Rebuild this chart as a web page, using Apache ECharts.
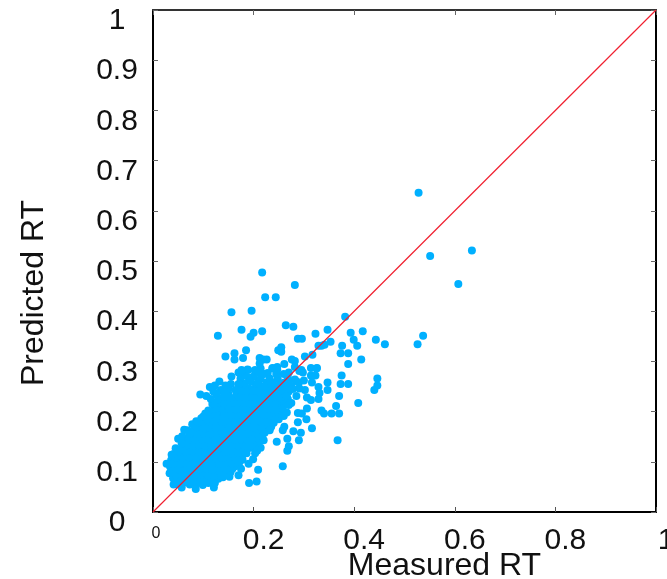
<!DOCTYPE html>
<html>
    <head>
        <meta charset="utf-8" />
        <script src="https://cdnjs.cloudflare.com/ajax/libs/echarts/6.0.0/echarts.min.js"></script>
        <style>
            html, body { margin: 0; padding: 0; background: #fff; }
        </style>
    </head>
    <body>
        <div id="main" style="width: 667px; height: 579px"></div>
        <script type="text/javascript">
            // tick labels
            const tickValues = [0, 0.2, 0.4, 0.6, 0.8, 1];
            const diagonal = [[0, 0], [1, 1]];

            // measured / predicted pairs
            const farPoints = [
                [0.528,0.636],[0.634,0.521],[0.551,0.510],[0.607,0.454],[0.217,0.477],[0.282,0.452],[0.223,0.428],[0.244,0.428],
                [0.156,0.398],[0.196,0.401],[0.382,0.389],[0.264,0.372],[0.279,0.369],[0.176,0.363],[0.217,0.360],[0.200,0.357],
                [0.194,0.349],[0.129,0.351],[0.347,0.363],[0.323,0.355],[0.288,0.345],[0.296,0.345],[0.393,0.357],[0.417,0.360],
                [0.399,0.343],[0.443,0.343],[0.461,0.334],[0.537,0.351],[0.526,0.334],[0.406,0.331],[0.376,0.331],[0.353,0.339],
                [0.329,0.331],[0.341,0.333],[0.335,0.331],[0.373,0.316],[0.388,0.316],[0.388,0.295],[0.414,0.304],[0.317,0.313],
                [0.302,0.310],[0.255,0.328],[0.249,0.322],[0.255,0.319],[0.185,0.322],[0.162,0.316],[0.144,0.310],[0.162,0.304],
                [0.179,0.307],[0.212,0.307],[0.226,0.304],[0.219,0.304],[0.212,0.296],[0.276,0.304],[0.282,0.301],[0.261,0.295],
                [0.238,0.287],[0.247,0.284],[0.282,0.289],[0.314,0.287],[0.326,0.287],[0.188,0.284],[0.203,0.283],[0.214,0.286],
                [0.295,0.283],[0.176,0.283]
            ];
            const upperPoints = [
                [0.446,0.266],[0.446,0.252],[0.440,0.243],[0.408,0.217],[0.375,0.272],[0.373,0.255],[0.388,0.255],[0.370,0.231],
                [0.364,0.211],[0.370,0.196],[0.355,0.196],[0.340,0.196],[0.335,0.202],[0.347,0.258],[0.347,0.243],[0.329,0.249],
                [0.331,0.237],[0.329,0.225],[0.314,0.223],[0.306,0.228],[0.306,0.206],[0.302,0.243],[0.291,0.246],[0.316,0.258],
                [0.325,0.286],[0.314,0.272],[0.323,0.272],[0.298,0.278],[0.291,0.281],[0.282,0.264],[0.270,0.278],[0.260,0.275],
                [0.270,0.258],[0.261,0.258],[0.247,0.289],[0.237,0.286],[0.221,0.275],[0.214,0.266],[0.232,0.266],[0.237,0.258],
                [0.203,0.281],[0.189,0.283],[0.176,0.281],[0.170,0.278],[0.156,0.270],[0.174,0.266],[0.194,0.260],[0.170,0.255],
                [0.209,0.258],[0.132,0.260],[0.144,0.252],[0.123,0.252],[0.113,0.249],[0.164,0.243],[0.141,0.237],[0.126,0.234],
                [0.106,0.231],[0.094,0.234],[0.129,0.223],[0.110,0.202],[0.104,0.196],[0.107,0.185],[0.086,0.181],[0.062,0.164],
                [0.050,0.146],[0.057,0.137],[0.037,0.114],[0.027,0.096],[0.033,0.077]
            ];
            const lowerPoints = [
                [0.041,0.055],[0.057,0.049],[0.085,0.046],[0.121,0.049],[0.123,0.058],[0.152,0.070],[0.170,0.073],[0.175,0.086],
                [0.191,0.058],[0.206,0.061],[0.209,0.084],[0.258,0.091],[0.190,0.096],[0.199,0.105],[0.203,0.117],[0.169,0.102],
                [0.186,0.117],[0.267,0.122],[0.270,0.131],[0.246,0.140],[0.267,0.146],[0.290,0.143],[0.367,0.143],[0.294,0.158],
                [0.279,0.161],[0.316,0.167],[0.288,0.179],[0.261,0.170],[0.258,0.163],[0.232,0.163],[0.220,0.143],[0.217,0.150],
                [0.305,0.185],[0.288,0.197],[0.296,0.196],[0.260,0.191],[0.266,0.198],[0.243,0.185],[0.227,0.179],[0.258,0.206],
                [0.270,0.213],[0.285,0.231],[0.266,0.231],[0.275,0.217],[0.255,0.243],[0.245,0.203]
            ];
            const corePoints = [
                [0.047,0.056],[0.060,0.058],[0.073,0.055],[0.086,0.057],[0.099,0.054],[0.110,0.058],
                [0.040,0.067],[0.052,0.069],[0.065,0.066],[0.078,0.068],[0.091,0.066],[0.104,0.069],[0.117,0.067],[0.130,0.066],[0.139,0.069],
                [0.037,0.079],[0.049,0.081],[0.062,0.078],[0.075,0.080],[0.088,0.078],[0.101,0.081],[0.114,0.079],[0.127,0.078],[0.140,0.081],[0.154,0.079],
                [0.034,0.090],[0.046,0.092],[0.059,0.090],[0.072,0.092],[0.085,0.090],[0.098,0.093],[0.111,0.090],[0.124,0.092],[0.137,0.090],[0.150,0.092],[0.163,0.091],
                [0.036,0.103],[0.049,0.102],[0.062,0.104],[0.075,0.102],[0.088,0.104],[0.101,0.102],[0.114,0.104],[0.127,0.103],[0.140,0.102],[0.153,0.104],[0.178,0.104],
                [0.040,0.115],[0.053,0.114],[0.066,0.116],[0.079,0.114],[0.092,0.116],[0.105,0.114],[0.118,0.116],[0.131,0.114],[0.144,0.116],[0.157,0.114],[0.170,0.116],
                [0.045,0.127],[0.058,0.126],[0.071,0.128],[0.084,0.126],[0.097,0.128],[0.110,0.126],[0.123,0.128],[0.136,0.126],[0.149,0.128],[0.162,0.126],[0.175,0.128],[0.188,0.126],[0.198,0.128],
                [0.064,0.139],[0.077,0.138],[0.090,0.140],[0.103,0.138],[0.116,0.140],[0.129,0.138],[0.142,0.140],[0.155,0.138],[0.168,0.140],[0.181,0.138],[0.194,0.140],[0.204,0.138],
                [0.058,0.151],[0.071,0.150],[0.084,0.152],[0.097,0.150],[0.110,0.152],[0.123,0.150],[0.136,0.152],[0.149,0.150],[0.162,0.152],[0.175,0.150],[0.188,0.152],[0.201,0.150],
                [0.068,0.163],[0.080,0.162],[0.093,0.164],[0.106,0.162],[0.119,0.164],[0.132,0.162],[0.145,0.164],[0.158,0.162],[0.171,0.164],[0.184,0.162],[0.197,0.164],[0.210,0.162],[0.224,0.164],
                [0.078,0.175],[0.091,0.174],[0.104,0.176],[0.117,0.174],[0.130,0.176],[0.143,0.174],[0.156,0.176],[0.169,0.174],[0.182,0.176],[0.195,0.174],[0.208,0.176],[0.221,0.174],[0.233,0.176],
                [0.096,0.187],[0.109,0.186],[0.122,0.188],[0.135,0.186],[0.148,0.188],[0.161,0.186],[0.174,0.188],[0.187,0.186],[0.200,0.188],[0.213,0.186],[0.226,0.188],[0.237,0.186],
                [0.118,0.199],[0.131,0.198],[0.144,0.200],[0.157,0.198],[0.170,0.200],[0.183,0.198],[0.196,0.200],[0.209,0.198],[0.222,0.200],[0.235,0.198],[0.248,0.200],
                [0.122,0.211],[0.135,0.210],[0.148,0.212],[0.161,0.210],[0.174,0.212],[0.187,0.210],[0.200,0.212],[0.213,0.210],[0.226,0.212],[0.239,0.210],[0.252,0.212],
                [0.133,0.223],[0.146,0.222],[0.159,0.224],[0.172,0.222],[0.185,0.224],[0.198,0.222],[0.211,0.224],[0.224,0.222],[0.237,0.224],[0.250,0.222],[0.261,0.224],
                [0.150,0.235],[0.166,0.234],[0.179,0.236],[0.192,0.234],[0.205,0.236],[0.218,0.234],[0.231,0.236],[0.244,0.234],[0.257,0.236],
                [0.178,0.247],[0.191,0.246],[0.204,0.248],[0.217,0.246],[0.230,0.248],[0.243,0.246]
            ];
            const fillPoints = [
                [0.054,0.062],[0.067,0.061],[0.080,0.062],[0.093,0.060],[0.106,0.062],[0.122,0.063],
                [0.044,0.074],[0.057,0.073],[0.070,0.074],[0.083,0.073],[0.096,0.074],[0.109,0.073],[0.122,0.074],[0.135,0.073],[0.147,0.075],
                [0.041,0.085],[0.054,0.086],[0.067,0.085],[0.080,0.086],[0.093,0.085],[0.106,0.086],[0.119,0.085],[0.132,0.086],[0.145,0.085],[0.158,0.086],
                [0.040,0.097],[0.053,0.097],[0.066,0.098],[0.079,0.097],[0.092,0.098],[0.105,0.097],[0.118,0.098],[0.131,0.097],[0.144,0.098],[0.157,0.097],[0.171,0.097],
                [0.046,0.109],[0.059,0.108],[0.072,0.109],[0.085,0.108],[0.098,0.109],[0.111,0.108],[0.124,0.109],[0.137,0.108],[0.150,0.109],[0.163,0.108],[0.176,0.110],
                [0.052,0.121],[0.065,0.120],[0.078,0.121],[0.091,0.120],[0.104,0.121],[0.117,0.120],[0.130,0.121],[0.143,0.120],[0.156,0.121],[0.169,0.120],[0.182,0.122],
                [0.065,0.133],[0.078,0.132],[0.091,0.133],[0.104,0.132],[0.117,0.133],[0.130,0.132],[0.143,0.133],[0.156,0.132],[0.169,0.133],[0.182,0.132],[0.195,0.133],
                [0.071,0.145],[0.084,0.144],[0.097,0.145],[0.110,0.144],[0.123,0.145],[0.136,0.144],[0.149,0.145],[0.162,0.144],[0.175,0.145],[0.188,0.144],[0.203,0.145],
                [0.074,0.157],[0.087,0.156],[0.100,0.157],[0.113,0.156],[0.126,0.157],[0.139,0.156],[0.152,0.157],[0.165,0.156],[0.178,0.157],[0.191,0.156],[0.204,0.157],[0.217,0.158],
                [0.086,0.169],[0.099,0.168],[0.112,0.169],[0.125,0.168],[0.138,0.169],[0.151,0.168],[0.164,0.169],[0.177,0.168],[0.190,0.169],[0.203,0.168],[0.216,0.169],[0.229,0.170],
                [0.098,0.181],[0.111,0.180],[0.124,0.181],[0.137,0.180],[0.150,0.181],[0.163,0.180],[0.176,0.181],[0.189,0.180],[0.202,0.181],[0.215,0.180],[0.228,0.181],
                [0.115,0.193],[0.128,0.192],[0.141,0.193],[0.154,0.192],[0.167,0.193],[0.180,0.192],[0.193,0.193],[0.206,0.192],[0.219,0.193],[0.232,0.192],[0.243,0.193],
                [0.125,0.205],[0.138,0.204],[0.151,0.205],[0.164,0.204],[0.177,0.205],[0.190,0.204],[0.203,0.205],[0.216,0.204],[0.229,0.205],[0.242,0.204],
                [0.128,0.217],[0.141,0.216],[0.154,0.217],[0.167,0.216],[0.180,0.217],[0.193,0.216],[0.206,0.217],[0.219,0.216],[0.232,0.217],[0.245,0.216],[0.256,0.217],
                [0.140,0.229],[0.153,0.228],[0.172,0.229],[0.185,0.228],[0.198,0.229],[0.211,0.228],[0.224,0.229],[0.237,0.228],[0.250,0.229],
                [0.173,0.241],[0.186,0.240],[0.199,0.241],[0.212,0.240],[0.225,0.241],[0.238,0.240],[0.251,0.241]
            ];
            const edgePoints = [
                [0.209,0.135],[0.212,0.145],[0.214,0.128],[0.207,0.122],[0.210,0.155],[0.222,0.158],[0.235,0.170],[0.240,0.178],
                [0.250,0.185],[0.255,0.195],[0.262,0.215],[0.268,0.225],[0.270,0.240],[0.278,0.245],[0.265,0.250],[0.155,0.255],
                [0.182,0.256],[0.190,0.268],[0.200,0.270],[0.205,0.255],[0.225,0.258],[0.220,0.250],[0.248,0.265],[0.250,0.252],
                [0.260,0.250],[0.150,0.245],[0.135,0.243],[0.120,0.240],[0.182,0.272],[0.212,0.277],[0.228,0.277],[0.245,0.275],
                [0.268,0.268],[0.275,0.250],[0.285,0.260],[0.290,0.258],[0.300,0.262],[0.118,0.215],[0.115,0.225],[0.100,0.190]
            ];

            var myChart = echarts.init(document.getElementById("main"));

            const labelFont = "Liberation Sans";

            // top and right axes only carry the mirrored ticks
            function mirrorAxis(position, lineColor) {
                return {
                    type: "value",
                    position: position,
                    min: 0,
                    max: 1,
                    interval: position === "top" ? 0.2 : 0.1,
                    axisLine: { show: true, onZero: false, lineStyle: { color: lineColor, width: 2 } },
                    axisTick: { show: true, inside: true, length: 5, lineStyle: { color: "#666", width: 1 } },
                    axisLabel: { show: false },
                    splitLine: { show: false },
                };
            }

            myChart.setOption({
                animation: false,
                backgroundColor: "#fff",
                grid: { left: 153, right: 11, top: 10, bottom: 67, outerBoundsMode: "none" },
                xAxis: [
                    {
                        type: "value",
                        min: 0,
                        max: 1,
                        interval: 0.2,
                        name: "Measured RT",
                        nameLocation: "middle",
                        nameGap: 38,
                        nameMoveOverlap: false,
                        nameTextStyle: { fontFamily: labelFont, fontSize: 32, color: "#111", padding: [0, 0, 0, 80] },
                        axisLine: { show: true, onZero: false, lineStyle: { color: "#000", width: 2 } },
                        axisTick: { show: true, inside: true, length: 5, lineStyle: { color: "#555", width: 1 } },
                        splitLine: { show: false },
                        axisLabel: {
                            margin: 14,
                            showMinLabel: true,
                            showMaxLabel: true,
                            hideOverlap: false,
                            formatter: function (value) {
                                const text = tickValues.includes(value) ? String(value) : "";
                                return value === 0 ? "{small|" + text + "}" : "{large|" + text + "}";
                            },
                            rich: {
                                large: { fontFamily: labelFont, fontSize: 30, color: "#111", padding: [0, 0, 0, 20] },
                                small: { fontFamily: labelFont, fontSize: 16, color: "#111", padding: [0, 0, 18, 6] },
                            },
                        },
                    },
                    mirrorAxis("top", "#333"),
                ],
                yAxis: [
                    {
                        type: "value",
                        min: 0,
                        max: 1,
                        interval: 0.1,
                        name: "Predicted RT",
                        nameLocation: "middle",
                        nameGap: 103,
                        nameMoveOverlap: false,
                        nameTextStyle: { fontFamily: labelFont, fontSize: 32, color: "#111", padding: [0, 64, 0, 0] },
                        axisLine: { show: true, onZero: false, lineStyle: { color: "#000", width: 2 } },
                        axisTick: { show: true, inside: true, length: 5, lineStyle: { color: "#666", width: 1 } },
                        splitLine: { show: false },
                        axisLabel: {
                            margin: 36,
                            align: "center",
                            showMinLabel: true,
                            showMaxLabel: true,
                            hideOverlap: false,
                            formatter: "{v|{value}}",
                            rich: {
                                v: { fontFamily: labelFont, fontSize: 30, color: "#111", padding: [22, 0, 0, 0] },
                            },
                        },
                    },
                    mirrorAxis("right", "#000"),
                ],
                series: [
                    {
                        type: "scatter",
                        symbolSize: 8,
                        itemStyle: { color: "#00b0ff", opacity: 1 },
                        data: [].concat(corePoints, fillPoints, edgePoints, lowerPoints, upperPoints, farPoints),
                        z: 2,
                    },
                    {
                        type: "line",
                        data: diagonal,
                        showSymbol: false,
                        silent: true,
                        lineStyle: { color: "#f02030", width: 1.2 },
                        z: 3,
                    },
                ],
            });
        </script>
    </body>
</html>
